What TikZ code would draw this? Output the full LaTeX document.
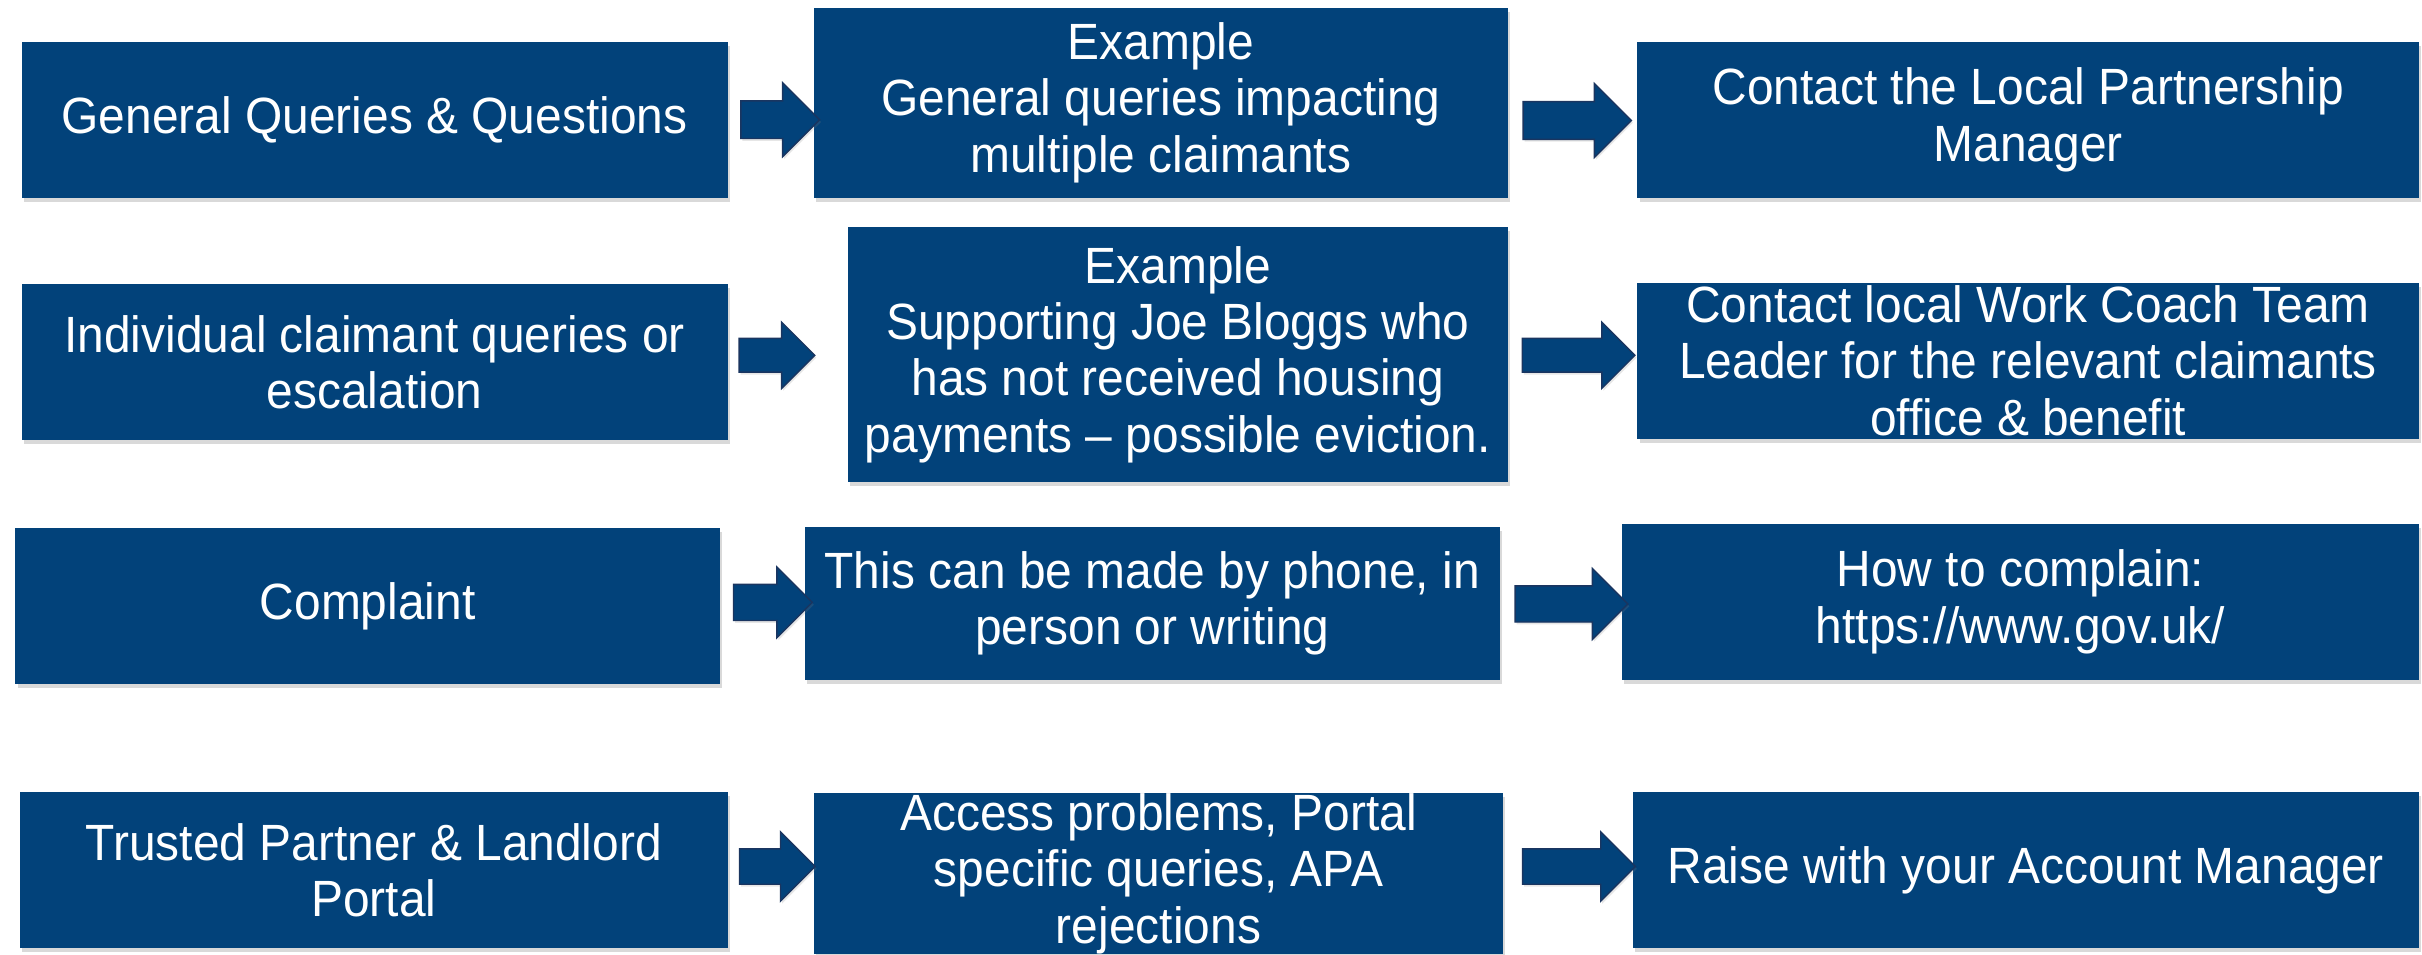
\documentclass[tikz,border=0pt]{standalone}
\usepackage{fontspec}
\setmainfont{Liberation Sans}[FakeStretch=0.94]
\usetikzlibrary{shapes.arrows,shadows,positioning}
\definecolor{DWPblue}{HTML}{02427A}
\definecolor{DWPdark}{HTML}{1A3560}

\tikzset{
  infobox/.style={fill=DWPblue, text=white, align=center, inner sep=0pt,
    font=\fontsize{33}{36.5}\selectfont,
    drop shadow={shadow xshift=1.5pt, shadow yshift=-2.5pt, opacity=.3}},
  blockarrow/.style 2 args={single arrow, draw=DWPdark, line width=.9pt,
    fill=DWPblue, inner xsep=0pt, inner ysep=#2/4,
    single arrow head extend=#2/4, single arrow tip angle=90,
    minimum height=#1, minimum width=#2,
    drop shadow={shadow xshift=1pt, shadow yshift=-1.5pt, opacity=.2}}
}

\begin{document}
\begin{tikzpicture}[x=1pt,y=-1pt]
  \useasboundingbox (0,0) rectangle (1568,618);

  % row 1: general queries
  \node[infobox, minimum width=457pt, minimum height=101pt] (gen) at (242.5,77.5) {General Queries \& Questions};
  \node[infobox, minimum width=449pt, minimum height=123pt] (genEx) at (751.5,66.5) {Example\\General queries impacting\\multiple claimants};
  \node[infobox, minimum width=506pt, minimum height=101pt] (genTo) at (1313,77.5) {Contact the Local Partnership\\Manager};

  % row 2: individual claimants
  \node[infobox, minimum width=457pt, minimum height=101pt] (ind) at (242.5,234.5) {Individual claimant queries or\\escalation};
  \node[infobox, minimum width=427pt, minimum height=165pt] (indEx) at (762.5,229.5) {Example\\Supporting Joe Bloggs who\\has not received housing\\payments -- possible eviction.};
  \node[infobox, minimum width=506pt, minimum height=101pt] (indTo) at (1313,233.5) {Contact local Work Coach Team\\Leader for the relevant claimants\\office \& benefit};

  % row 3: complaints
  \node[infobox, minimum width=456pt, minimum height=101pt] (cmp) at (238,392.5) {Complaint};
  \node[infobox, minimum width=450pt, minimum height=99pt] (cmpEx) at (746,390.5) {This can be made by phone, in\\person or writing};
  \node[infobox, minimum width=516pt, minimum height=101pt] (cmpTo) at (1308,389.5) {How to complain:\\https://www.gov.uk/};

  % row 4: portal
  \node[infobox, minimum width=458pt, minimum height=101pt] (prt) at (242,563.5) {Trusted Partner \& Landlord\\Portal};
  \node[infobox, minimum width=446pt, minimum height=101pt] (prtEx) at (750,565.5) {Access problems, Portal\\specific queries, APA\\rejections};
  \node[infobox, minimum width=509pt, minimum height=101pt] (prtTo) at (1311.5,563.5) {Raise with your Account Manager};

  % block arrows between the boxes
  \node[blockarrow={51pt}{47pt}] (genA) at (499,77.5) {};
  \node[blockarrow={70pt}{47pt}] (genB) at (1015,78) {};
  \node[blockarrow={49pt}{42pt}] (indA) at (497.5,230) {};
  \node[blockarrow={73pt}{42pt}] (indB) at (1016.5,230) {};
  \node[blockarrow={51pt}{45pt}] (cmpA) at (494.5,390) {};
  \node[blockarrow={73pt}{45pt}] (cmpB) at (1011.5,391) {};
  \node[blockarrow={49pt}{44pt}] (prtA) at (497.5,561) {};
  \node[blockarrow={73pt}{44pt}] (prtB) at (1016.5,561) {};
\end{tikzpicture}
\end{document}
